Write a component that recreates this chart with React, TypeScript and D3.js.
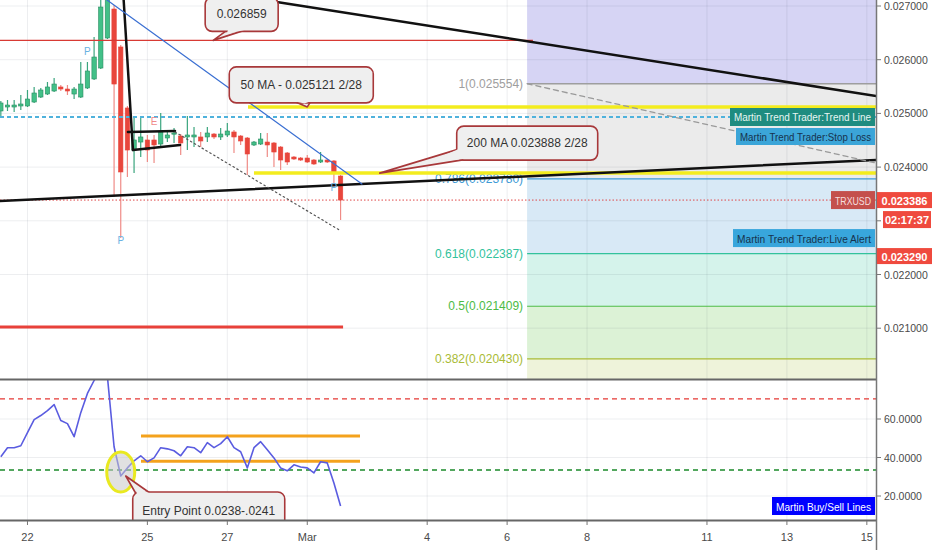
import React from "react";
import * as d3 from "d3";

const utc = (m: number, d: number, h = 0, min = 0) =>
  new Date(Date.UTC(2019, m - 1, d, h, min));
const HOUR = 36e5;

// TRXUSD 4h candles from Feb 21 08:00 UTC: [open, high, low, close]
const candleStart = utc(2, 21, 8);
const ohlc: number[][] = [
  [0.025045, 0.025231, 0.024933, 0.025194],
  [0.025119, 0.02525, 0.025045, 0.025156],
  [0.025119, 0.02525, 0.025026, 0.025156],
  [0.025138, 0.025343, 0.025063, 0.025175],
  [0.025138, 0.025436, 0.025119, 0.025268],
  [0.025212, 0.025492, 0.025194, 0.02538],
  [0.025305, 0.025473, 0.025287, 0.025436],
  [0.025361, 0.025585, 0.025343, 0.025492],
  [0.025417, 0.025659, 0.025399, 0.025547],
  [0.025492, 0.025529, 0.025417, 0.025454],
  [0.025454, 0.025529, 0.025343, 0.025417],
  [0.025361, 0.025492, 0.025268, 0.025454],
  [0.025305, 0.025957, 0.025287, 0.025547],
  [0.025473, 0.025957, 0.025454, 0.02579],
  [0.025641, 0.026423, 0.025622, 0.02605],
  [0.025845, 0.027112, 0.025827, 0.026981],
  [0.026404, 0.027391, 0.026385, 0.027205],
  [0.026944, 0.027019, 0.023443, 0.025547],
  [0.026237, 0.026274, 0.02268, 0.023909],
  [0.025101, 0.025138, 0.023816, 0.024318],
  [0.024318, 0.024933, 0.02389, 0.024505],
  [0.024467, 0.024933, 0.024188, 0.024561],
  [0.024505, 0.024598, 0.024095, 0.024318],
  [0.024505, 0.024598, 0.024076, 0.024412],
  [0.02443, 0.025007, 0.024393, 0.024654],
  [0.024542, 0.024654, 0.024467, 0.024598],
  [0.024616, 0.024728, 0.024449, 0.024635],
  [0.024579, 0.024616, 0.024225, 0.024449],
  [0.024561, 0.024952, 0.024318, 0.024598],
  [0.024561, 0.024747, 0.024374, 0.024598],
  [0.024561, 0.024654, 0.024374, 0.024486],
  [0.024561, 0.024747, 0.024467, 0.024635],
  [0.024616, 0.024635, 0.024523, 0.024561],
  [0.024561, 0.024728, 0.024505, 0.024616],
  [0.024598, 0.024821, 0.024561, 0.024672],
  [0.024654, 0.024691, 0.024263, 0.024561],
  [0.024579, 0.024598, 0.024412, 0.024486],
  [0.024542, 0.024561, 0.023853, 0.024244],
  [0.024412, 0.024486, 0.024393, 0.024467],
  [0.02443, 0.024635, 0.024412, 0.024523],
  [0.024467, 0.024635, 0.024188, 0.024412],
  [0.024449, 0.024467, 0.024002, 0.024281],
  [0.024374, 0.024393, 0.023946, 0.024132],
  [0.024263, 0.024281, 0.024039, 0.024095],
  [0.024188, 0.024207, 0.024132, 0.024151],
  [0.024169, 0.024188, 0.024114, 0.024132],
  [0.024169, 0.024225, 0.024076, 0.024095],
  [0.024132, 0.024151, 0.024039, 0.024058],
  [0.024095, 0.024281, 0.024076, 0.024132],
  [0.024132, 0.024151, 0.024076, 0.024095],
  [0.024114, 0.024132, 0.023667, 0.02389],
  [0.023834, 0.023853, 0.023015, 0.023387],
];

// oscillator in the lower pane, one value per candle
const rsi = [
  40.4, 45.1, 45.1, 46.1, 52.9, 59.7, 61.8, 64.4, 67.5, 59.2,
  57.6, 50.8, 63.3, 73.3, 80.0, 86.0, 82.0, 45.6, 30.4, 34.6,
  38.3, 40.9, 37.8, 39.8, 45.1, 44.5, 43.5, 40.9, 45.6, 45.1,
  42.5, 47.7, 45.1, 47.2, 50.8, 45.1, 43.0, 34.6, 45.1, 48.2,
  44.0, 39.8, 34.6, 33.1, 36.2, 35.1, 34.6, 32.0, 37.8, 37.2,
  26.8, 14.8,
];

const priceTicks = [0.027, 0.026, 0.025, 0.024, 0.023, 0.022, 0.021];
const rsiTicks = [60, 40, 20];
const dateTicks = [
  utc(2, 22), utc(2, 25), utc(2, 27), utc(3, 1), utc(3, 4),
  utc(3, 6), utc(3, 8), utc(3, 11), utc(3, 13), utc(3, 15),
];

const fibRatios = ["1", "0.786", "0.618", "0.5", "0.382"];
const fibPrices = [0.025554, 0.02378, 0.022387, 0.021409, 0.02043];
const fibStart = utc(3, 6, 12);

const lastPrice = 0.023386;
const alertPrice = 0.02329;
const trendLinePrice = 0.024933;

// drawn trend lines: [time1, price1, time2, price2]
const trendLines: Record<string, [Date, number, Date, number]> = {
  upperBlack: [utc(2, 27, 22), 0.027112, utc(3, 15, 12), 0.025292],
  lowerBlack: [utc(2, 21), 0.023358, utc(3, 15, 12), 0.024143],
  steepBlack: [utc(2, 24, 9, 45), 0.027112, utc(2, 24, 15, 20), 0.024318],
  flagTop: [utc(2, 24, 12, 20), 0.024654, utc(2, 25, 16, 35), 0.024672],
  flagBottom: [utc(2, 24, 15, 20), 0.024318, utc(2, 25, 19, 35), 0.024412],
  blueTrend: [utc(2, 23, 23, 45), 0.027112, utc(3, 2, 8, 50), 0.023685],
  dotted: [utc(2, 25, 16, 35), 0.024654, utc(3, 1, 20, 15), 0.02281],
  dashed: [utc(3, 6, 12), 0.025554, utc(3, 15, 5, 30), 0.024076],
};

// horizontal lines: [price, from, to] (null = chart edge)
const hLines: Record<string, [number, Date | null, Date | null]> = {
  redTop: [0.02636, null, utc(3, 6, 15, 30)],
  redThick: [0.021022, null, utc(3, 1, 21, 30)],
  ma50: [0.025121, utc(2, 27, 12, 25), null],
  ma200: [0.023888, utc(2, 27, 16), null],
  trend: [trendLinePrice, null, null],
  last: [lastPrice, null, null],
};

// oscillator levels: [value, from, to]
const rsiLines: Record<string, [number, Date | null, Date | null]> = {
  sell: [70.5, null, null],
  buy: [33.5, null, null],
  rangeTop: [51.2, utc(2, 24, 20, 10), utc(3, 2, 7, 40)],
  rangeBottom: [38.0, utc(2, 24, 20, 10), utc(3, 2, 7, 40)],
};

const markers: [string, number, number][] = [
  ["P", 13, 0.026162],
  ["P", 18, 0.022642],
  ["P", 50, 0.023611],
  ["E", 23, 0.02484],
];

const FONT = "'Liberation Sans', Arial, sans-serif";
const W = 932;
const H = 550;
const PR = 876;
const PANE1 = [0, 379];
const PANE2 = [380, 520];

const hStyle: Record<string, any> = {
  redTop: { stroke: "#d83a34", strokeWidth: 1.2 },
  redThick: { stroke: "#e8413a", strokeWidth: 3 },
  ma50: { stroke: "#f3ec1e", strokeWidth: 3.5 },
  ma200: { stroke: "#f3ec1e", strokeWidth: 3.5 },
  trend: { stroke: "#4fb2dc", strokeWidth: 2, strokeDasharray: "4 3" },
  last: { stroke: "#e04848", strokeWidth: 1, strokeDasharray: "1.5 2" },
};
const tStyle: Record<string, any> = {
  upperBlack: { stroke: "#111", strokeWidth: 2.5 },
  lowerBlack: { stroke: "#111", strokeWidth: 2.5 },
  steepBlack: { stroke: "#111", strokeWidth: 2.5 },
  flagTop: { stroke: "#111", strokeWidth: 2.5 },
  flagBottom: { stroke: "#111", strokeWidth: 2.5 },
  blueTrend: { stroke: "#3a6fd2", strokeWidth: 1.2 },
  dotted: { stroke: "#555", strokeWidth: 1.2, strokeDasharray: "1.5 3" },
  dashed: { stroke: "#9a9a9a", strokeWidth: 1.3, strokeDasharray: "5 4" },
};
const rStyle: Record<string, any> = {
  sell: { stroke: "#e53935", strokeWidth: 1.3, strokeDasharray: "5 4" },
  buy: { stroke: "#1b8a2a", strokeWidth: 1.3, strokeDasharray: "5 4" },
  rangeTop: { stroke: "#f4a21c", strokeWidth: 3 },
  rangeBottom: { stroke: "#f4a21c", strokeWidth: 3 },
};
const fibColors = ["#9e9e9e", "#3d9bd6", "#33c29c", "#4cbb46", "#a9bb36"];
const zoneColors = ["#d6d4f4", "#ebebeb", "#d8e9f6", "#d5f3eb", "#dcf2d6", "#eef3da"];

type CalloutProps = {
  ax: number;
  ay: number;
  box: [number, number, number, number];
  base: [[number, number], [number, number]];
  text: string;
};

function Callout({ ax, ay, box, base, text }: CalloutProps) {
  const fill = "#efefef";
  const stroke = "#a8383a";
  const [bx, by, bw, bh] = box;
  const b1 = [ax + base[0][0], ay + base[0][1]];
  const b2 = [ax + base[1][0], ay + base[1][1]];
  const tri = `M${ax},${ay}L${b1[0]},${b1[1]}L${b2[0]},${b2[1]}Z`;
  const mx = (b1[0] + b2[0]) / 2;
  const my = (b1[1] + b2[1]) / 2;
  const cx = ax + (mx - ax) * 0.55;
  const cy = ay + (my - ay) * 0.55;
  const cover = `M${cx},${cy}L${b1[0]},${b1[1]}L${b2[0]},${b2[1]}Z`;
  return (
    <g>
      <path d={tri} fill={fill} stroke={stroke} strokeWidth={1.6} strokeLinejoin="round" />
      <rect x={ax + bx} y={ay + by} width={bw} height={bh} rx={7} fill={fill} stroke={stroke} strokeWidth={1.6} />
      <path d={cover} fill={fill} />
      <text
        x={ax + bx + bw / 2}
        y={ay + by + bh / 2}
        textAnchor="middle"
        dominantBaseline="central"
        fontSize={12}
        fill="#333"
      >
        {text}
      </text>
    </g>
  );
}

function Tag({ x, y, w, h, fill, color, text, bold, fit }: any) {
  return (
    <g>
      <rect x={x} y={y} width={w} height={h} fill={fill} />
      <text
        x={x + w / 2}
        y={y + h / 2 + 0.5}
        textAnchor="middle"
        dominantBaseline="central"
        fontSize={11}
        fontWeight={bold ? "bold" : "normal"}
        fill={color}
        textLength={fit ? w - 8 : undefined}
        lengthAdjust={fit ? "spacingAndGlyphs" : undefined}
      >
        {text}
      </text>
    </g>
  );
}

export default function App() {
  const x = d3
    .scaleUtc()
    .domain([utc(2, 21, 7, 30), utc(3, 15, 5, 30)])
    .range([0, PR]);
  const y = d3.scaleLinear().domain([0.02, 0.027]).range([381.9, 6]);
  const yr = d3.scaleLinear().domain([20, 60]).range([496, 419]);

  const tAt = (i: number) => new Date(candleStart.getTime() + i * 4 * HOUR);
  const fmtPrice = d3.format(".6f");
  const fmtRsi = d3.format(".4f");
  const rsiLine = d3
    .line<number>()
    .x((_, i) => x(tAt(i)))
    .y((v) => yr(v));

  const fx = x(fibStart);
  const zoneBounds = [PANE1[0], ...fibPrices.map((p) => y(p)), PANE1[1]];

  const xOr = (d: Date | null, fallback: number) => (d ? x(d) : fallback);

  const lastY = y(lastPrice);
  const trendY = y(trendLinePrice);

  return (
    <svg
      width={W}
      height={H}
      viewBox={`0 0 ${W} ${H}`}
      style={{ position: "absolute", left: 0, top: 0, background: "#fff", fontFamily: FONT }}
    >
      <defs>
        <clipPath id="pane1">
          <rect x={0} y={PANE1[0]} width={PR} height={PANE1[1] - PANE1[0]} />
        </clipPath>
        <clipPath id="pane2">
          <rect x={0} y={PANE2[0]} width={PR} height={PANE2[1] - PANE2[0]} />
        </clipPath>
      </defs>

      {/* fib zones */}
      <g clipPath="url(#pane1)">
        {zoneColors.map((c, i) => (
          <rect key={i} x={fx} y={zoneBounds[i]} width={PR - fx} height={zoneBounds[i + 1] - zoneBounds[i]} fill={c} />
        ))}
      </g>

      {/* grid */}
      <g stroke="rgba(60,70,90,0.09)" strokeWidth={1}>
        {priceTicks.map((p) => (
          <line key={p} x1={0} x2={PR} y1={y(p)} y2={y(p)} />
        ))}
        {rsiTicks.map((v) => (
          <line key={v} x1={0} x2={PR} y1={yr(v)} y2={yr(v)} />
        ))}
        {dateTicks.map((d) => (
          <line key={+d} x1={x(d)} x2={x(d)} y1={0} y2={PANE2[1]} />
        ))}
      </g>

      {/* fib levels */}
      <g>
        {fibPrices.map((p, i) => (
          <g key={p}>
            <line x1={fx} x2={PR} y1={y(p)} y2={y(p)} stroke={fibColors[i]} strokeWidth={i === 0 ? 1.5 : 1.2} />
            <text x={fx - 4} y={y(p)} textAnchor="end" dominantBaseline="central" fontSize={12} fill={fibColors[i]}>
              {`${fibRatios[i]}(${fmtPrice(p)})`}
            </text>
          </g>
        ))}
      </g>

      {/* candles */}
      <g clipPath="url(#pane1)">
        {ohlc.map(([o, h, l, c], i) => {
          const cx = x(tAt(i));
          const up = c >= o;
          const top = y(Math.max(o, c));
          const bh = Math.max(1.2, Math.abs(y(o) - y(c)));
          return (
            <g key={i}>
              <line x1={cx} x2={cx} y1={y(h)} y2={y(l)} stroke={up ? "#3aa57e" : "#ef8b86"} strokeWidth={1.2} />
              <rect
                x={cx - 2.2}
                y={top}
                width={4.4}
                height={bh}
                fill={up ? "#42c088" : "#e8463c"}
                stroke={up ? "#2b8d62" : "#e8463c"}
                strokeWidth={0.6}
              />
            </g>
          );
        })}
      </g>

      {/* horizontal drawings */}
      <g clipPath="url(#pane1)">
        {Object.entries(hLines).map(([k, [p, a, b]]) => (
          <line key={k} x1={xOr(a, 0)} x2={xOr(b, PR)} y1={y(p)} y2={y(p)} {...hStyle[k]} />
        ))}
      </g>

      {/* trend lines */}
      <g clipPath="url(#pane1)" strokeLinecap="round">
        {Object.entries(trendLines).map(([k, [t1, p1, t2, p2]]) => (
          <line key={k} x1={x(t1)} y1={y(p1)} x2={x(t2)} y2={y(p2)} {...tStyle[k]} />
        ))}
      </g>

      {/* markers */}
      <g fontSize={10} textAnchor="middle" dominantBaseline="central">
        {markers.map(([m, i, p], k) => (
          <text key={k} x={x(tAt(i))} y={y(p)} fill={m === "P" ? "#6ab2e2" : "#f08a8a"}>
            {m}
          </text>
        ))}
      </g>

      {/* price callouts */}
      <g clipPath="url(#pane1)">
        <Callout
          ax={x(utc(2, 26, 15, 30))}
          ay={y(hLines.redTop[0])}
          box={[-8, -43, 73, 34]}
          base={[[15, -11], [34, -11]]}
          text="0.026859"
        />
        <Callout
          ax={x(utc(3, 1))}
          ay={y(hLines.ma50[0])}
          box={[-78, -40, 144, 36]}
          base={[[-14, -6], [4, -6]]}
          text="50 MA - 0.025121 2/28"
        />
        <Callout
          ax={x(utc(3, 2, 19, 30))}
          ay={y(hLines.ma200[0])}
          box={[77, -47, 141, 34]}
          base={[[79, -24], [94, -15]]}
          text="200 MA 0.023888 2/28"
        />
      </g>

      {/* oscillator pane */}
      <g clipPath="url(#pane2)">
        {Object.entries(rsiLines).map(([k, [v, a, b]]) => (
          <line key={k} x1={xOr(a, 0)} x2={xOr(b, PR)} y1={yr(v)} y2={yr(v)} {...rStyle[k]} />
        ))}
        <path d={rsiLine(rsi) || ""} fill="none" stroke="#5a5ce0" strokeWidth={1.6} strokeLinejoin="round" />
        <ellipse cx={x(utc(2, 24, 8))} cy={yr(32.5)} rx={14} ry={20} fill="rgba(200,200,200,0.55)" stroke="#e9e920" strokeWidth={3} />
        <Callout
          ax={x(utc(2, 24, 11))}
          ay={yr(30.4)}
          box={[7, 16, 152, 38]}
          base={[[11, 19], [27, 19]]}
          text="Entry Point 0.0238-.0241"
        />
      </g>

      {/* labels at right of plot */}
      <Tag x={730} y={trendY - 9} w={145} h={18} fill="#1f8c80" color="#e8f6f3" text="Martin Trend Trader:Trend Line" fit />
      <Tag x={736} y={trendY + 11} w={139} h={17} fill="#3ba5d8" color="#17324d" text="Martin Trend Trader:Stop Loss" fit />
      <Tag x={831} y={lastY - 9} w={44} h={18} fill="#c4504c" color="#f6dede" text="TRXUSD" fit />
      <Tag x={733} y={lastY + 29} w={142} h={18} fill="#38a6dc" color="#17324d" text="Martin Trend Trader:Live Alert" fit />
      <Tag x={772} y={497} w={103} h={18} fill="#0000ff" color="#ffffff" text="Martin Buy/Sell Lines" fit />

      {/* pane borders and axes */}
      <line x1={0} x2={PR + 1} y1={379.5} y2={379.5} stroke="#666" strokeWidth={2} />
      <line x1={0} x2={PR + 1} y1={520.5} y2={520.5} stroke="#666" strokeWidth={2} />
      <line x1={PR + 0.5} x2={PR + 0.5} y1={0} y2={H} stroke="#777" strokeWidth={1.5} />

      <g fontSize={10.5} fill="#4a4a4a">
        {priceTicks.map((p) => (
          <g key={p}>
            <line x1={PR} x2={PR + 5} y1={y(p)} y2={y(p)} stroke="#777" />
            <text x={884} y={y(p)} dominantBaseline="central">
              {fmtPrice(p)}
            </text>
          </g>
        ))}
        {rsiTicks.map((v) => (
          <g key={v}>
            <line x1={PR} x2={PR + 5} y1={yr(v)} y2={yr(v)} stroke="#777" />
            <text x={884} y={yr(v)} dominantBaseline="central">
              {fmtRsi(v)}
            </text>
          </g>
        ))}
        {dateTicks.map((d) => (
          <g key={+d}>
            <line x1={x(d)} x2={x(d)} y1={521} y2={525} stroke="#777" />
            <text x={x(d)} y={537} textAnchor="middle" dominantBaseline="central" fontSize={11}>
              {d.getUTCDate() === 1 ? d3.utcFormat("%b")(d) : d.getUTCDate()}
            </text>
          </g>
        ))}
      </g>

      {/* axis value tags */}
      <Tag x={877} y={lastY - 8} w={55} h={16} fill="#ef4a3e" color="#fff" text={fmtPrice(lastPrice)} bold />
      <Tag x={883} y={lastY + 11} w={48} h={17} fill="#ef4a3e" color="#fff" text="02:17:37" bold />
      <Tag x={877} y={lastY + 48} w={55} h={16} fill="#ef4a3e" color="#fff" text={fmtPrice(alertPrice)} bold />
    </svg>
  );
}
